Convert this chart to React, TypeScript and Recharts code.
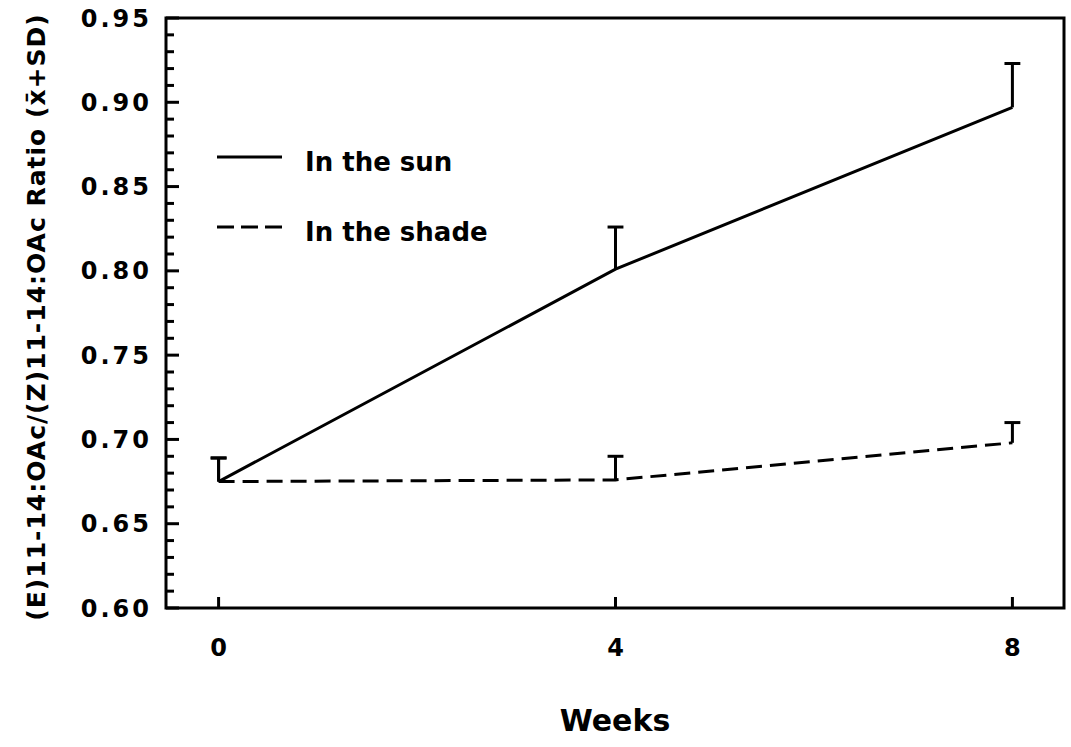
import React from 'react';
import {
  LineChart,
  Line,
  XAxis,
  YAxis,
  ReferenceLine,
  ReferenceArea,
  Legend,
} from 'recharts';

// Sampling times (weeks) and the mean ratio with its standard deviation per treatment
const weeks = [0, 4, 8];
const sunMean = [0.675, 0.801, 0.897];
const sunSD = [0.014, 0.025, 0.026];
const shadeMean = [0.675, 0.676, 0.698];
const shadeSD = [0.014, 0.014, 0.012];

// Axis ticks
const xTicks = [0, 4, 8];
const yMajorTicks = [0.6, 0.65, 0.7, 0.75, 0.8, 0.85, 0.9, 0.95];
const yMinorTicks = [
  0.6, 0.61, 0.62, 0.63, 0.64, 0.65, 0.66, 0.67, 0.68, 0.69, 0.7, 0.71, 0.72,
  0.73, 0.74, 0.75, 0.76, 0.77, 0.78, 0.79, 0.8, 0.81, 0.82, 0.83, 0.84, 0.85,
  0.86, 0.87, 0.88, 0.89, 0.9, 0.91, 0.92, 0.93, 0.94, 0.95,
];

const X_DOMAIN: [number, number] = [-0.53, 8.52];
const Y_DOMAIN: [number, number] = [0.6, 0.95];

const FONT = '"DejaVu Sans", "Liberation Sans", Arial, sans-serif';
const INK = '#000';

const series = [
  { key: 'sun', name: 'In the sun', mean: sunMean, sd: sunSD, dash: undefined as string | undefined },
  { key: 'shade', name: 'In the shade', mean: shadeMean, sd: shadeSD, dash: '16 8' },
];

const data = weeks.map((w, i) => ({
  week: w,
  sun: sunMean[i],
  shade: shadeMean[i],
}));

const isMajor = (v: number) => yMajorTicks.some((m) => Math.abs(m - v) < 1e-6);

const LeftTick = (props: any) => {
  const { x, y, payload } = props;
  const major = isMajor(payload.value);
  return (
    <g>
      <line x1={x} x2={x + (major ? 13 : 8)} y1={y} y2={y} stroke={INK} strokeWidth={3} />
      {major && (
        <text
          x={x - 14}
          y={y}
          dy="0.36em"
          textAnchor="end"
          fontFamily={FONT}
          fontWeight="bold"
          fontSize={24}
          letterSpacing={3}
          fill={INK}
        >
          {payload.value.toFixed(2)}
        </text>
      )}
    </g>
  );
};

const RightTick = (props: any) => {
  const { x, y, payload } = props;
  const major = isMajor(payload.value);
  return <line x1={x} x2={x - (major ? 12 : 8)} y1={y} y2={y} stroke={INK} strokeWidth={3} />;
};

const BottomTick = (props: any) => {
  const { x, y, payload } = props;
  return (
    <g>
      <line x1={x} x2={x} y1={y} y2={y - 11} stroke={INK} strokeWidth={3} />
      <text
        x={x}
        y={y + 48}
        textAnchor="middle"
        fontFamily={FONT}
        fontWeight="bold"
        fontSize={24}
        fill={INK}
      >
        {payload.value}
      </text>
    </g>
  );
};

const renderLegend = (props: any) => {
  const payload: any[] = props.payload ?? [];
  return (
    <svg width={290} height={115} style={{ display: 'block' }}>
      {series.map((s, i) => {
        const entry = payload.find((p) => p.dataKey === s.key);
        const lineY = 17 + i * 70;
        return (
          <g key={s.key}>
            <line
              x1={7}
              x2={72}
              y1={lineY}
              y2={lineY}
              stroke={INK}
              strokeWidth={3}
              strokeDasharray={s.dash ? '17 7' : undefined}
            />
            <text
              x={95}
              y={lineY + 14}
              fontFamily={FONT}
              fontWeight="bold"
              fontSize={26}
              fill={INK}
            >
              {entry?.value ?? s.name}
            </text>
          </g>
        );
      })}
    </svg>
  );
};

const CAP = 0.08; // half width of the error bar cap, in weeks

export default function App() {
  return (
    <div style={{ position: 'absolute', left: 0, top: 0, background: '#fff' }}>
      <LineChart
        width={1071}
        height={747}
        data={data}
        margin={{ top: 18, right: 0, bottom: 0, left: 0 }}
      >
        <XAxis
          dataKey="week"
          type="number"
          domain={X_DOMAIN}
          ticks={xTicks}
          height={139}
          axisLine={false}
          tickLine={false}
          tickSize={0}
          tickMargin={0}
          tick={BottomTick}
          label={{
            value: 'Weeks',
            position: 'insideBottom',
            offset: 16,
            style: { fontFamily: FONT, fontWeight: 'bold', fontSize: 30, fill: INK },
          }}
        />
        <YAxis
          yAxisId="left"
          type="number"
          domain={Y_DOMAIN}
          ticks={yMinorTicks}
          interval={0}
          width={166}
          axisLine={false}
          tickLine={false}
          tickSize={0}
          tickMargin={0}
          tick={LeftTick}
          label={{
            value: '(E)11-14:OAc/(Z)11-14:OAc Ratio (x\u0304+SD)',
            angle: -90,
            position: 'center',
            dx: -47,
            dy: 4,
            style: {
              fontFamily: FONT,
              fontWeight: 'bold',
              fontSize: 25,
              letterSpacing: 1,
              fill: INK,
            },
          }}
        />
        <YAxis
          yAxisId="right"
          orientation="right"
          type="number"
          domain={Y_DOMAIN}
          ticks={yMinorTicks}
          interval={0}
          width={7}
          axisLine={false}
          tickLine={false}
          tickSize={0}
          tickMargin={0}
          tick={RightTick}
        />

        {/* frame around the plotting area */}
        <ReferenceArea
          yAxisId="left"
          x1={X_DOMAIN[0]}
          x2={X_DOMAIN[1]}
          y1={Y_DOMAIN[0]}
          y2={Y_DOMAIN[1]}
          fill="none"
          fillOpacity={0}
          stroke={INK}
          strokeWidth={3}
          ifOverflow="visible"
        />

        {series.map((s) => (
          <Line
            key={s.key}
            yAxisId="left"
            type="linear"
            dataKey={s.key}
            name={s.name}
            stroke={INK}
            strokeWidth={3}
            strokeDasharray={s.dash}
            dot={false}
            activeDot={false}
            isAnimationActive={false}
          />
        ))}

        {/* upward error bars: mean to mean + SD, with a cap */}
        {series.flatMap((s) =>
          weeks.map((w, i) => (
            <ReferenceLine
              key={`${s.key}-bar-${i}`}
              yAxisId="left"
              segment={[
                { x: w, y: s.mean[i] },
                { x: w, y: s.mean[i] + s.sd[i] },
              ]}
              stroke={INK}
              strokeWidth={3}
              ifOverflow="visible"
            />
          ))
        )}
        {series.flatMap((s) =>
          weeks.map((w, i) => (
            <ReferenceLine
              key={`${s.key}-cap-${i}`}
              yAxisId="left"
              segment={[
                { x: w - CAP, y: s.mean[i] + s.sd[i] },
                { x: w + CAP, y: s.mean[i] + s.sd[i] },
              ]}
              stroke={INK}
              strokeWidth={3}
              ifOverflow="visible"
            />
          ))
        )}

        <Legend
          layout="vertical"
          align="center"
          verticalAlign="middle"
          content={renderLegend}
          wrapperStyle={{ left: 210, top: 140, width: 290, height: 115 }}
        />
      </LineChart>
    </div>
  );
}
